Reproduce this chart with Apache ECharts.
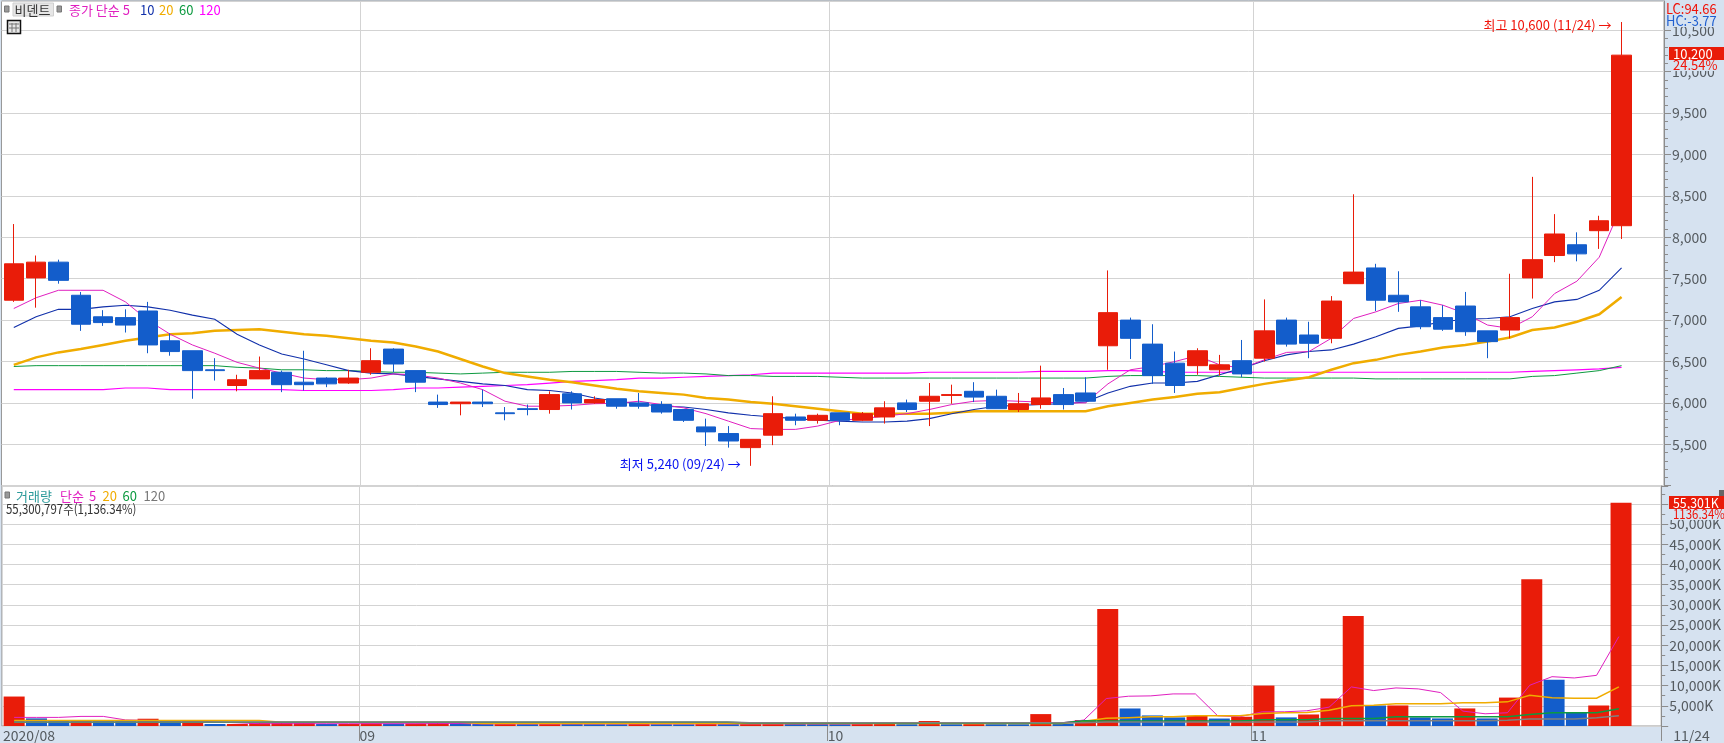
<!DOCTYPE html>
<html><head><meta charset="utf-8">
<style>html,body{margin:0;padding:0;background:#d6e2f0}#c{width:1724px;height:743px}</style>
<script src="https://cdn.jsdelivr.net/npm/echarts@6/dist/echarts.min.js"></script>
</head><body><div id="c"></div>
<script>
const opens=[7240,7510,7700,7300,7040,7030,7110,6750,6630,6400,6210,6290,6370,6250,6300,6240,6370,6650,6390,6010,5990,6010,5880,5930,5920,6110,6000,6050,6000,5980,5920,5710,5630,5460,5610,5830,5790,5880,5790,5830,6000,6020,6090,6140,6080,5920,5980,6100,6120,6690,7000,6710,6480,6450,6400,6510,6540,7000,6820,6780,7440,7630,7300,7160,7030,7170,6870,6880,7510,7780,7910,8080,8140];
const closes=[7680,7700,7480,6950,6970,6940,6700,6620,6390,6390,6280,6390,6220,6220,6230,6300,6510,6470,6250,5980,6010,5990,5870,5920,6100,6000,6040,5960,5960,5890,5790,5650,5540,5560,5870,5790,5850,5790,5870,5940,5920,6080,6100,6070,5930,5990,6060,5980,6020,7090,6780,6330,6210,6630,6460,6350,6870,6710,6720,7230,7580,7240,7220,6920,6890,6860,6740,7030,7730,8040,7800,8200,10200];
const lows=[7220,7150,7440,6870,6930,6850,6600,6570,6050,6270,6140,6290,6130,6150,6190,6230,6340,6370,6130,5940,5850,5950,5790,5850,5870,5920,5990,5930,5930,5870,5770,5480,5460,5240,5490,5730,5750,5730,5780,5750,5890,5720,5990,6010,5930,5890,5930,5920,6020,6400,6530,6230,6120,6340,6330,6310,6500,6680,6540,6720,7440,7110,7100,6890,6870,6810,6540,6780,7260,7700,7710,7860,7980];
const highs=[8160,7780,7730,7340,7120,7130,7220,6840,6630,6540,6340,6560,6390,6630,6310,6400,6660,6660,6390,6100,6010,6160,5950,5980,6140,6140,6080,6050,6120,6020,5920,5810,5720,5560,6080,5870,5870,5880,5890,6020,6040,6240,6220,6250,6160,6120,6450,6180,6310,7600,7030,6950,6620,6660,6580,6760,7250,7030,6980,7290,8520,7680,7590,7240,7180,7340,6870,7560,8730,8280,8060,8260,10600];
const ma5=[7140,7270,7360,7360,7360,7220,7000,6830,6700,6600,6490,6420,6360,6300,6280,6280,6300,6350,6340,6300,6240,6160,6020,5960,5960,5970,5990,5995,6020,5980,5940,5870,5780,5690,5680,5680,5720,5790,5810,5840,5870,5920,5980,6020,6030,6020,6010,6000,6000,6230,6400,6440,6500,6570,6460,6420,6520,6610,6620,6780,7020,7100,7200,7240,7180,7080,6940,6900,7040,7320,7470,7760,8380];
const ma10=[6910,7040,7130,7130,7160,7180,7160,7120,7060,7010,6830,6700,6590,6530,6460,6390,6360,6350,6320,6290,6260,6230,6210,6160,6150,6120,6060,6020,5990,5960,5950,5920,5880,5850,5830,5810,5790,5780,5770,5770,5780,5810,5870,5920,5960,5970,5980,5990,6010,6120,6200,6240,6240,6260,6340,6420,6510,6580,6620,6640,6710,6800,6900,6930,6980,7010,7020,7040,7140,7220,7250,7360,7630];
const ma20=[6460,6550,6610,6650,6700,6750,6790,6830,6840,6870,6880,6890,6860,6830,6810,6780,6750,6730,6680,6620,6530,6440,6360,6320,6280,6250,6210,6170,6140,6120,6100,6060,6040,6010,5990,5960,5930,5900,5870,5870,5870,5870,5880,5900,5900,5900,5900,5900,5900,5960,6000,6040,6070,6110,6130,6180,6230,6270,6310,6400,6480,6520,6580,6620,6670,6700,6740,6790,6880,6910,6980,7070,7280];
const ma60=[6440,6450,6450,6450,6450,6450,6450,6450,6450,6450,6430,6420,6400,6400,6390,6390,6380,6370,6370,6360,6350,6360,6370,6370,6370,6380,6380,6380,6370,6360,6360,6350,6330,6330,6320,6320,6320,6310,6300,6300,6300,6300,6300,6300,6300,6300,6300,6300,6300,6320,6330,6330,6330,6330,6320,6310,6300,6300,6300,6300,6300,6290,6290,6290,6290,6290,6290,6290,6320,6330,6360,6390,6450];
const ma120=[6160,6160,6160,6160,6160,6180,6180,6160,6160,6160,6160,6160,6160,6150,6150,6150,6150,6160,6180,6180,6190,6200,6210,6220,6240,6260,6270,6280,6300,6300,6310,6320,6330,6340,6360,6360,6360,6360,6360,6360,6360,6370,6370,6370,6370,6370,6380,6380,6380,6390,6390,6380,6370,6370,6370,6370,6370,6370,6370,6370,6370,6370,6370,6370,6370,6370,6370,6370,6380,6390,6400,6410,6430];
const volumes=[7300,1890,1350,1400,1350,1300,1800,1300,1350,490,500,740,760,780,500,520,680,600,640,800,750,490,500,480,510,490,470,450,620,450,430,500,470,520,540,500,480,470,500,520,450,1230,450,470,460,450,2950,620,1480,28970,4340,2620,2130,2540,1850,2290,10010,2130,2860,6810,27250,5080,5090,2130,1880,4350,1880,7040,36370,11470,3280,5080,55301];
const volMa5=[2130,2130,2130,2380,2380,1500,1400,1300,1300,1000,800,570,570,570,570,570,570,570,570,600,600,500,500,500,500,500,500,500,500,500,500,500,500,500,500,500,500,500,500,600,650,650,650,650,650,650,650,800,1480,6800,7380,7460,7950,7950,2530,2290,3520,3520,3770,4670,9680,8780,9430,9190,8280,3690,3030,3280,10090,12220,11900,12550,22150];
const volMa20=[1390,1390,1390,1390,1390,1390,1390,1390,1390,1390,1390,1390,950,950,950,950,950,950,950,950,950,650,650,650,650,650,650,650,650,650,650,650,650,650,650,650,650,650,650,650,650,650,650,650,650,650,650,650,1150,1900,2040,2290,2290,2530,2530,2530,3110,3280,3360,3930,5000,5160,5490,5490,5490,5740,5740,5980,7630,6970,6890,6890,9680];
const volMa60=[900,900,900,900,900,900,900,900,900,900,900,900,900,900,900,900,900,900,900,900,900,900,900,900,900,900,900,900,900,900,900,900,900,720,720,720,720,720,720,720,720,720,720,720,720,720,720,720,1300,1220,1220,1220,1220,1220,1220,1220,1550,1550,1550,1880,1880,1880,2290,2290,2290,2290,2290,2290,2860,3280,3280,3280,4260];
const volMa120=[1000,1000,1000,1000,1000,1000,1000,1000,1000,1000,1000,1000,1000,1000,1000,1000,1000,1000,1000,1000,1000,1000,1000,1000,1000,1000,1000,1000,1000,1000,1000,1000,1000,800,800,800,800,800,800,800,800,800,800,800,800,800,800,800,800,970,970,970,970,970,970,970,970,970,970,1300,1300,1300,1300,1300,1300,1300,1300,1400,1720,1720,1720,2040,2530];
const monthStarts=[-0.5,15.5,36.5,55.5];
const monthLabels=['2020/08','09','10','11'];
const lastDateLabel='11/24';
const priceTicks={min:5000,max:10854,interval:500};
const volumeTicks={min:0,max:59459,interval:5000};

const RED='#e91c09',BLUE='#135dcb',GRID='#d3d3d3',AX='#8c8c8c',TXT='#555b60';
const FONT='"Liberation Sans Narrow","Noto Sans CJK KR",sans-serif';
const KR='"Noto Sans CJK KR","Liberation Sans Narrow",sans-serif';
const xMin=-0.55,xMax=73.9;
const fmt=n=>String(n).replace(/\B(?=(\d{3})+$)/g,',');
const pairs=a=>a.map((v,i)=>[i,v]);
const line=(name,data,color,width,ax)=>({name,type:'line',xAxisIndex:ax,yAxisIndex:ax,data:pairs(data),showSymbol:false,symbol:'none',z:ax?5:2,silent:true,lineStyle:{color,width,cap:'butt',join:'miter'}});
const xBase={type:'value',min:xMin,max:xMax,containShape:false,axisLine:{show:false,onZero:false},
  splitLine:{show:true,lineStyle:{color:GRID,width:1}}};
const txt=(text,x,y,fill,size,family,sx)=>({type:'text',z:100,x,y,scaleX:sx||1,style:{text,fill,font:`${size||13}px ${family||KR}`,verticalAlign:'middle',align:'left'}});
const rect=(x,y,w,h,fill,stroke,lw)=>({type:'rect',z:99,shape:{x,y,width:w,height:h},style:{fill,stroke:stroke||null,lineWidth:lw||0}});
const gridIcon=[rect(7.5,20.5,13,13,'#e8e8e8','#111',1.5),
  {type:'line',z:100,shape:{x1:12,y1:23,x2:12,y2:32},style:{stroke:'#777',lineWidth:1}},
  {type:'line',z:100,shape:{x1:16,y1:23,x2:16,y2:32},style:{stroke:'#777',lineWidth:1}},
  {type:'line',z:100,shape:{x1:9,y1:24,x2:19,y2:24},style:{stroke:'#777',lineWidth:1}},
  {type:'line',z:100,shape:{x1:9,y1:28,x2:19,y2:28},style:{stroke:'#777',lineWidth:1}}];
const option={
  animation:false,backgroundColor:'#d6e2f0',textStyle:{fontFamily:FONT},
  grid:[
    {left:1.5,width:1662.5,top:1,height:484.7,show:true,backgroundColor:'#fff',borderColor:'#999',borderWidth:1},
    {left:1.5,width:1662.5,top:486,height:242,show:true,backgroundColor:'#fff',borderColor:'#999',borderWidth:1}
  ],
  xAxis:[
    Object.assign({},xBase,{gridIndex:0,axisTick:{show:false,customValues:monthStarts.slice(1)},axisLabel:{show:false,customValues:monthStarts.slice(1)}}),
    Object.assign({},xBase,{gridIndex:1,
      axisTick:{show:true,length:15,customValues:monthStarts.slice(1).concat([xMax]),lineStyle:{color:AX,width:1}},
      axisLabel:{show:true,customValues:monthStarts.concat([xMax]),margin:3,align:'left',fontFamily:FONT,fontSize:14,color:TXT,
        formatter:v=>{const k=monthStarts.indexOf(v);return k>=0?monthLabels[k]:'{far|'+lastDateLabel+'}';},
        rich:{far:{padding:[0,0,0,12],fontFamily:FONT,fontSize:14,color:TXT}}}}),
    {type:'value',gridIndex:1,position:'top',show:false,min:xMin,max:xMax-0.1}
  ],
  yAxis:[
    {type:'value',gridIndex:0,position:'right',min:priceTicks.min,max:priceTicks.max,interval:priceTicks.interval,
     axisLine:{show:true,onZero:false,lineStyle:{color:AX,width:1}},axisTick:{show:true,length:7,lineStyle:{color:AX}},
     minorTick:{show:true,splitNumber:5,length:4,lineStyle:{color:AX}},
     splitLine:{show:true,lineStyle:{color:GRID,width:1}},
     axisLabel:{margin:8,fontFamily:FONT,fontSize:14,color:TXT,showMaxLabel:false,showMinLabel:false,formatter:v=>fmt(v)}},
    {type:'value',gridIndex:1,position:'right',min:volumeTicks.min,max:volumeTicks.max,interval:volumeTicks.interval,
     axisLine:{show:true,onZero:false,lineStyle:{color:AX,width:1}},axisTick:{show:true,length:7,lineStyle:{color:AX}},
     minorTick:{show:true,splitNumber:2,length:4,lineStyle:{color:AX}},
     splitLine:{show:true,lineStyle:{color:GRID,width:1}},
     axisLabel:{margin:8,fontFamily:FONT,fontSize:14,color:TXT,showMaxLabel:false,showMinLabel:false,formatter:v=>fmt(v)+'K'}}
  ],
  series:[
    line('MA120',ma120,'#ff00ff',1.2,0),
    line('MA60',ma60,'#0d9a40',1,0),
    line('MA20',ma20,'#f0ac00',2.5,0),
    line('MA10',ma10,'#1130aa',1.1,0),
    line('MA5',ma5,'#e020c0',1,0),
    {type:'candlestick',layout:'horizontal',xAxisIndex:0,yAxisIndex:0,z:4,barWidth:20,silent:true,
     encode:{x:0,y:[1,2,3,4]},
     data:opens.map((o,i)=>[i,o,closes[i],lows[i],highs[i]]),
     itemStyle:{color:RED,color0:BLUE,borderColor:RED,borderColor0:BLUE,borderWidth:1},
     markPoint:{silent:true,symbol:'circle',symbolSize:0,animation:false,
       data:[
        {coord:[72,10600],label:{show:true,position:'left',distance:10,offset:[0,3],color:'#f0140a',fontFamily:KR,fontSize:13,formatter:'최고 10,600 (11/24) →'}},
        {coord:[33,5240],label:{show:true,position:'left',distance:10,offset:[0,-2],color:'#0a14f0',fontFamily:KR,fontSize:13,formatter:'최저 5,240 (09/24) →'}}
       ]}},
    {type:'bar',xAxisIndex:2,yAxisIndex:1,barWidth:21,z:2,silent:true,data:pairs(volumes),
     itemStyle:{color:p=>(p.dataIndex===0||volumes[p.dataIndex]>=volumes[p.dataIndex-1])?RED:BLUE}},
    line('VMA5',volMa5,'#e020c0',1,1),
    line('VMA20',volMa20,'#f0ac00',1.5,1),
    line('VMA60',volMa60,'#0d9a40',1.5,1),
    line('VMA120',volMa120,'#808080',1.5,1)
  ],
  graphic:{elements:[
    rect(4.5,6,4.5,6,'#999','#777',1),
    rect(13,3,40.5,13,'#e6e6e6','#cfcfcf',1),
    txt('비덴트',14.5,10,'#333',13),
    rect(57,6,4.5,6,'#999','#777',1),
    txt('종가 단순 5',69,10,'#e020c0',13),
    txt('10',140,10,'#1130aa',13,FONT),
    txt('20',159,10,'#f0ac00',13,FONT),
    txt('60',179,10,'#0d9a40',13,FONT),
    txt('120',199,10,'#ff00ff',13,FONT),
    ...gridIcon,
    rect(5,492,4.5,6,'#999','#777',1),
    txt('거래량',16,496,'#2a9a9a',13),
    txt('단순',60,496,'#e020c0',13),
    txt('5',89,496,'#e020c0',13,FONT),
    txt('20',102.5,496,'#f0ac00',13,FONT),
    txt('60',122.5,496,'#0d9a40',13,FONT),
    txt('120',143.5,496,'#777',13,FONT),
    txt('55,300,797주(1,136.34%)',6,509,'#333',13,FONT,0.88),
    rect(1665,0,59,27,'#d6e2f0'),
    txt('LC:94.66',1666,8.5,'#f0140a',14,FONT,0.92),
    txt('HC:-3.77',1666,20.5,'#1f5fd0',14,FONT,0.92),
    rect(1669,47,55,13,RED),
    txt('10,200',1673,54,'#fff',13,FONT),
    rect(1669,60,55,11,'#d6e2f0'),
    txt('24.54%',1673,65.5,'#f0140a',13,FONT),
    rect(1669,496,55,13,RED),
    txt('55,301K',1673,503,'#fff',13,FONT,0.95),
    rect(1669,509,55,11,'#d6e2f0'),
    txt('1136.34%',1673,514.5,'#f0140a',13,FONT,0.88),
    rect(1719,490,5,6,'#666')
  ]}
};
echarts.init(document.getElementById('c')).setOption(option);
</script></body></html>
